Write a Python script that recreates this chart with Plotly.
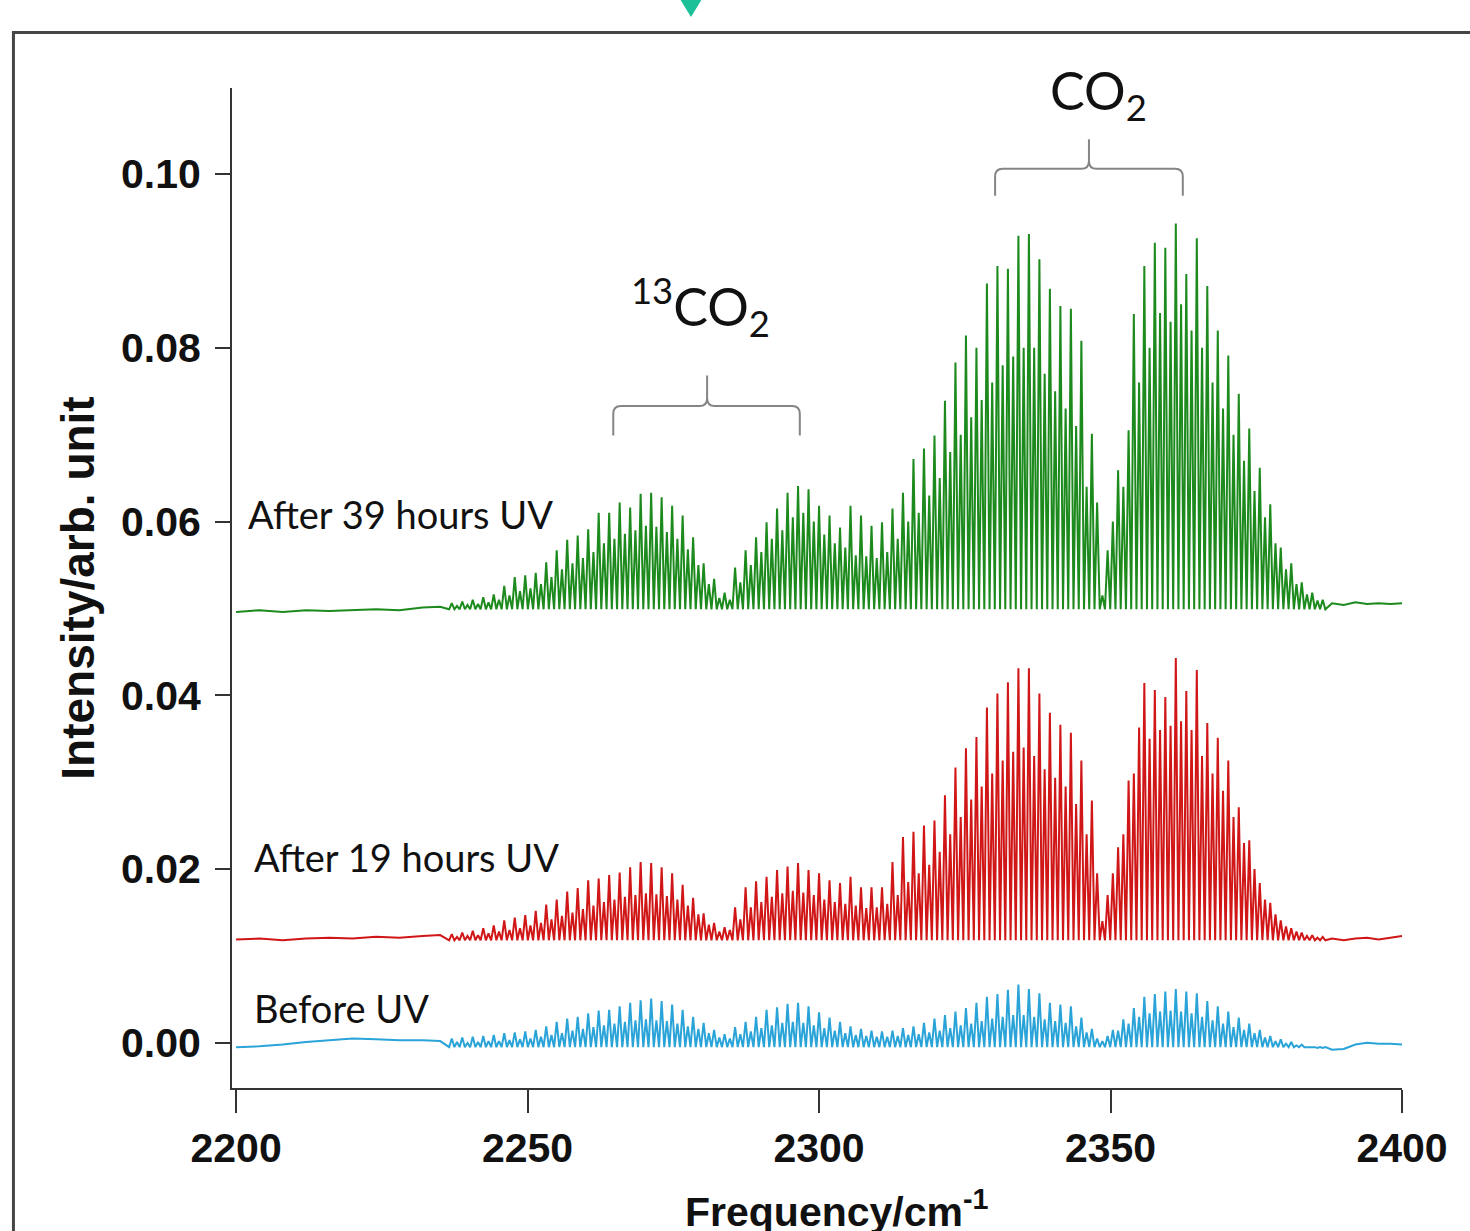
import plotly.graph_objects as go

# ---------------- data (intensities in units of 1e-3 arb. unit) ----------------
LINE_POS = [
    2237.0, 2237.9, 2238.8, 2239.7, 2240.6, 2241.5, 2242.4, 2243.3, 2244.2, 2245.1,
    2246.0, 2246.9, 2247.8, 2248.7, 2249.6, 2250.5, 2251.4, 2252.3, 2253.2, 2254.1,
    2255.0, 2255.9, 2256.8, 2257.7, 2258.6, 2259.5, 2260.4, 2261.3, 2262.2, 2263.1,
    2264.0, 2264.9, 2265.8, 2266.7, 2267.6, 2268.5, 2269.4, 2270.3, 2271.2, 2272.1,
    2273.0, 2273.9, 2274.8, 2275.7, 2276.6, 2277.5, 2278.4, 2279.3, 2280.2, 2281.1,
    2282.0, 2282.9, 2283.8, 2284.7, 2285.6, 2286.5, 2287.4, 2288.3, 2289.2, 2290.1,
    2291.0, 2291.9, 2292.8, 2293.7, 2294.6, 2295.5, 2296.4, 2297.3, 2298.2, 2299.1,
    2300.0, 2300.9, 2301.8, 2302.7, 2303.6, 2304.5, 2305.4, 2306.3, 2307.2, 2308.1,
    2309.0, 2309.9, 2310.8, 2311.7, 2312.6, 2313.5, 2314.4, 2315.3, 2316.2, 2317.1,
    2318.0, 2318.9, 2319.8, 2320.7, 2321.6, 2322.5, 2323.4, 2324.3, 2325.2, 2326.1,
    2327.0, 2327.9, 2328.8, 2329.7, 2330.6, 2331.5, 2332.4, 2333.3, 2334.2, 2335.1,
    2336.0, 2336.9, 2337.8, 2338.7, 2339.6, 2340.5, 2341.4, 2342.3, 2343.2, 2344.1,
    2345.0, 2345.9, 2346.8, 2347.7, 2348.6, 2349.5, 2350.4, 2351.3, 2352.2, 2353.1,
    2354.0, 2354.9, 2355.8, 2356.7, 2357.6, 2358.5, 2359.4, 2360.3, 2361.2, 2362.1,
    2363.0, 2363.9, 2364.8, 2365.7, 2366.6, 2367.5, 2368.4, 2369.3, 2370.2, 2371.1,
    2372.0, 2372.9, 2373.8, 2374.7, 2375.6, 2376.5, 2377.4, 2378.3, 2379.2, 2380.1,
    2381.0, 2381.9, 2382.8, 2383.7, 2384.6, 2385.5, 2386.4,
]

PEAKS_39H = [
    50.6, 50.3, 50.8, 50.4, 51.0, 50.5, 51.3, 50.7, 51.6, 51.0,
    52.6, 51.5, 53.6, 52.0, 53.8, 52.3, 54.1, 52.8, 55.3, 53.6,
    56.7, 54.5, 57.9, 55.2, 58.4, 55.8, 59.1, 56.5, 61.0, 57.5,
    61.0, 58.0, 62.2, 58.6, 61.6, 59.0, 63.2, 59.5, 63.3, 59.4,
    62.8, 58.8, 61.8, 58.0, 60.7, 56.8, 58.2, 55.0, 55.2, 52.8,
    53.4, 51.2, 51.8, 51.0, 54.7, 53.0, 56.7, 55.0, 58.2, 56.5,
    59.9, 58.0, 61.5, 59.0, 63.3, 60.5, 64.1, 61.0, 63.7, 60.0,
    61.8, 58.5, 60.7, 57.5, 59.3, 57.0, 61.8, 56.1, 60.7, 56.0,
    59.5, 55.8, 59.9, 56.5, 61.5, 58.0, 63.3, 60.0, 67.2, 61.0,
    68.4, 63.0, 69.9, 65.0, 73.9, 68.0, 78.3, 70.0, 81.4, 72.0,
    80.0, 74.0, 87.4, 76.0, 89.4, 78.0, 89.1, 79.0, 92.9, 80.0,
    93.1, 80.0, 90.2, 77.0, 86.8, 75.0, 84.8, 73.0, 84.5, 71.0,
    80.8, 64.0, 70.1, 62.2, 51.5, 56.7, 60.0, 65.9, 64.0, 70.5,
    83.9, 76.0, 89.4, 80.0, 92.1, 84.0, 91.5, 83.0, 94.3, 85.0,
    88.5, 82.0, 92.6, 80.0, 87.1, 76.0, 82.0, 73.0, 79.1, 70.0,
    74.7, 67.0, 70.7, 63.5, 66.2, 60.5, 62.0, 57.5, 57.0, 54.5,
    55.2, 52.8, 53.0, 51.6, 51.8, 50.9, 51.0,
]

PEAKS_19H = [
    12.5, 12.2, 12.7, 12.3, 12.9, 12.4, 13.2, 12.6, 13.5, 12.8,
    14.1, 13.0, 14.4, 13.2, 14.7, 13.5, 15.2, 13.8, 15.9, 14.2,
    16.5, 14.6, 17.4, 15.0, 17.8, 15.4, 18.7, 15.8, 18.9, 16.2,
    19.3, 16.5, 19.6, 16.8, 20.2, 17.0, 20.8, 17.2, 20.7, 17.1,
    20.2, 16.9, 19.5, 16.5, 18.2, 15.8, 16.7, 14.8, 14.9, 13.6,
    13.8, 12.8, 13.3, 13.0, 15.6, 14.2, 17.9, 15.6, 18.6, 16.2,
    19.1, 16.8, 19.9, 17.2, 20.3, 17.5, 20.7, 17.3, 19.9, 17.0,
    19.5, 16.5, 18.7, 16.2, 18.4, 16.0, 19.1, 15.8, 17.9, 15.5,
    17.9, 15.6, 17.9, 16.0, 20.8, 17.0, 23.7, 18.5, 24.3, 19.5,
    25.0, 20.5, 25.6, 22.0, 28.5, 24.0, 31.7, 26.0, 33.9, 28.0,
    35.2, 29.5, 38.6, 31.0, 40.2, 32.5, 41.5, 33.5, 43.1, 34.0,
    43.1, 33.0, 40.2, 31.5, 38.0, 30.5, 36.6, 29.5, 35.7, 27.5,
    32.5, 24.0, 27.9, 19.5, 14.0, 17.0, 19.5, 22.5, 24.0, 30.2,
    31.0, 36.3, 41.4, 35.0, 40.6, 36.0, 39.8, 36.5, 44.3, 37.0,
    40.5, 36.0, 42.9, 33.0, 36.8, 31.0, 35.1, 29.0, 32.5, 26.0,
    27.1, 23.0, 23.3, 20.0, 18.4, 16.5, 16.1, 14.8, 14.1, 13.4,
    13.2, 12.8, 12.7, 12.3, 12.4, 12.1, 12.2,
]

PEAKS_BEFORE = [
    0.5, 0.1, 0.6, 0.0, 0.7, 0.1, 0.8, 0.2, 0.9, 0.2,
    1.1, 0.3, 1.2, 0.4, 1.3, 0.5, 1.5, 0.7, 1.9, 0.9,
    2.4, 1.1, 2.8, 1.4, 3.0, 1.6, 3.4, 1.8, 3.7, 2.0,
    3.8, 2.2, 4.2, 2.4, 4.6, 2.6, 4.9, 2.7, 5.1, 2.6,
    4.8, 2.5, 4.4, 2.2, 3.8, 1.9, 3.0, 1.6, 2.3, 1.1,
    1.5, 0.6, 1.0, 0.5, 1.8, 1.0, 2.4, 1.3, 3.0, 1.7,
    3.8, 2.0, 4.1, 2.3, 4.5, 2.4, 4.6, 2.3, 4.2, 2.0,
    3.5, 1.7, 2.9, 1.4, 2.4, 1.1, 1.9, 0.9, 1.6, 0.8,
    1.4, 0.7, 1.3, 0.7, 1.4, 0.8, 1.7, 0.9, 1.9, 1.0,
    2.3, 1.2, 2.8, 1.4, 3.2, 1.7, 3.6, 2.0, 4.0, 2.2,
    4.6, 2.5, 5.3, 2.8, 5.6, 3.0, 6.1, 3.2, 6.7, 3.2,
    6.2, 3.0, 5.7, 2.7, 4.6, 2.5, 4.4, 2.3, 4.2, 1.9,
    2.9, 1.2, 1.6, 0.5, 0.2, 0.8, 1.5, 1.4, 2.7, 2.2,
    4.0, 3.0, 5.3, 3.4, 5.6, 3.6, 5.9, 3.7, 6.2, 3.6,
    5.9, 3.4, 5.7, 3.0, 4.8, 2.6, 4.2, 2.2, 3.6, 1.8,
    2.9, 1.5, 2.2, 1.1, 1.5, 0.6, 0.8, 0.2, 0.4, -0.1,
    0.1, -0.3, -0.2, -0.5, -0.5, -0.6, -0.6,
]

# troughs between lines and the flat baseline stretches at both ends
TROUGH = {"39h": 49.9, "19h": 11.8, "before": -0.5}

LEAD_X = [2200, 2204, 2208, 2212, 2216, 2220, 2224, 2228, 2232, 2235]
LEAD_39H = [49.6, 49.8, 49.6, 49.8, 49.7, 49.8, 49.9, 49.8, 50.1, 50.2]
LEAD_19H = [11.9, 12.0, 11.8, 12.0, 12.1, 12.0, 12.2, 12.1, 12.3, 12.4]
LEAD_BEFORE = [-0.5, -0.4, -0.2, 0.1, 0.3, 0.5, 0.4, 0.3, 0.3, 0.2]

TAIL_X = [2388, 2390, 2392, 2394, 2396, 2398, 2400]
TAIL_39H = [50.6, 50.4, 50.7, 50.5, 50.6, 50.5, 50.6]
TAIL_19H = [12.0, 11.8, 12.0, 12.1, 11.9, 12.1, 12.3]
TAIL_BEFORE = [-0.8, -0.7, -0.2, 0.0, -0.1, -0.1, -0.2]

X_TICKS = [2200, 2250, 2300, 2350, 2400]
Y_TICKS = [0.00, 0.02, 0.04, 0.06, 0.08, 0.10]

SERIES = [
    ("After 39 hours UV", PEAKS_39H, "39h", LEAD_39H, TAIL_39H, "#1c8a1c"),
    ("After 19 hours UV", PEAKS_19H, "19h", LEAD_19H, TAIL_19H, "#d01616"),
    ("Before UV", PEAKS_BEFORE, "before", LEAD_BEFORE, TAIL_BEFORE, "#2aa4d8"),
]

HALF = 0.45  # half line spacing, where the trough between two lines sits
SCALE = 1e-3


def build_trace(peaks, key, lead, tail):
    xs = list(LEAD_X)
    ys = [v * SCALE for v in lead]
    tr = TROUGH[key] * SCALE
    for p, h in zip(LINE_POS, peaks):
        xs += [p - HALF, p]
        ys += [tr, h * SCALE]
    xs.append(LINE_POS[-1] + HALF)
    ys.append(tr)
    xs += TAIL_X
    ys += [v * SCALE for v in tail]
    return xs, ys


fig = go.Figure()
for name, peaks, key, lead, tail, color in SERIES:
    xs, ys = build_trace(peaks, key, lead, tail)
    fig.add_trace(go.Scatter(x=xs, y=ys, mode="lines", name=name,
                             line=dict(color=color, width=2.0),
                             showlegend=False, hoverinfo="skip"))

TICK_FONT = dict(family="Liberation Sans", size=41, color="#111", weight="bold")

fig.update_layout(
    width=1470, height=1231,
    margin=dict(l=232, r=68, t=88, b=143, autoexpand=False),
    paper_bgcolor="white", plot_bgcolor="white",
    xaxis=dict(range=[2199.3, 2400.0], tickvals=X_TICKS, ticks="outside",
               ticklen=23, tickwidth=1.5, tickcolor="#333",
               showline=True, linecolor="#333", linewidth=2,
               showgrid=False, zeroline=False, tickfont=TICK_FONT,
               ticklabelstandoff=0),
    yaxis=dict(range=[-0.0052, 0.1099], tickvals=Y_TICKS, tickformat=".2f",
               ticks="outside", ticklen=15, tickwidth=1.5, tickcolor="#333",
               showline=True, linecolor="#333", linewidth=2,
               showgrid=False, zeroline=False, tickfont=TICK_FONT,
               ticklabelstandoff=6,
               title=dict(text="Intensity/arb. unit", standoff=12,
                          font=dict(family="Liberation Sans", size=46,
                                    color="#111", weight="bold"))),
)

LABEL_FONT = dict(family="Lato", size=38, color="#111")
fig.add_annotation(x=2201.7, y=0.0609, text="After 39 hours UV", showarrow=False,
                   xanchor="left", yanchor="middle", font=LABEL_FONT)
fig.add_annotation(x=2202.7, y=0.0214, text="After 19 hours UV", showarrow=False,
                   xanchor="left", yanchor="middle", font=LABEL_FONT)
fig.add_annotation(x=2202.7, y=0.0040, text="Before UV", showarrow=False,
                   xanchor="left", yanchor="middle", font=LABEL_FONT)

BIG_FONT = dict(family="Lato", size=52, color="#111")
fig.add_annotation(x=2347.9, y=0.1092, text="CO<sub>2</sub>", showarrow=False,
                   xanchor="center", yanchor="middle", font=BIG_FONT)
fig.add_annotation(x=2279.6, y=0.0848, text="<sup>13</sup>CO<sub>2</sub>", showarrow=False,
                   xanchor="center", yanchor="middle", font=BIG_FONT)

# x axis title (placed as in the original, its lower edge meets the image edge)
fig.add_annotation(xref="paper", yref="paper", x=0.517, y=-0.121,
                   text="Frequency/cm<sup>-1</sup>", showarrow=False,
                   xanchor="center", yanchor="middle",
                   font=dict(family="Liberation Sans", size=41, color="#111", weight="bold"))


def brace(xl, xr, xm, yb, ye, yt, rx, ry):
    return (f"M {xl},{ye} L {xl},{yb - ry} Q {xl},{yb} {xl + rx},{yb} "
            f"L {xm - rx},{yb} Q {xm},{yb} {xm},{yb + ry} L {xm},{yt} "
            f"M {xm},{yb + ry} Q {xm},{yb} {xm + rx},{yb} "
            f"L {xr - rx},{yb} Q {xr},{yb} {xr},{yb - ry} L {xr},{ye}")


BRACE_LINE = dict(color="#858585", width=2)
fig.add_shape(type="path", xref="x", yref="y", line=BRACE_LINE,
              path=brace(2330.2, 2362.4, 2346.3, 0.1006, 0.0975, 0.1040, 1.3, 0.0009))
fig.add_shape(type="path", xref="x", yref="y", line=BRACE_LINE,
              path=brace(2264.7, 2296.7, 2280.8, 0.0733, 0.0699, 0.0768, 1.3, 0.0009))

# outer frame of the slide and the small marker at the top
fig.add_shape(type="rect", xref="paper", yref="paper",
              x0=-0.1868, x1=1.08, y0=-0.16, y1=1.0555,
              line=dict(color="#454545", width=3), fillcolor="rgba(0,0,0,0)")
fig.add_shape(type="path", xref="paper", yref="paper",
              path="M 0.3829,1.089 L 0.4017,1.089 L 0.3923,1.071 Z",
              fillcolor="#1bbf98", line=dict(width=0))

fig.write_html("out.html")
